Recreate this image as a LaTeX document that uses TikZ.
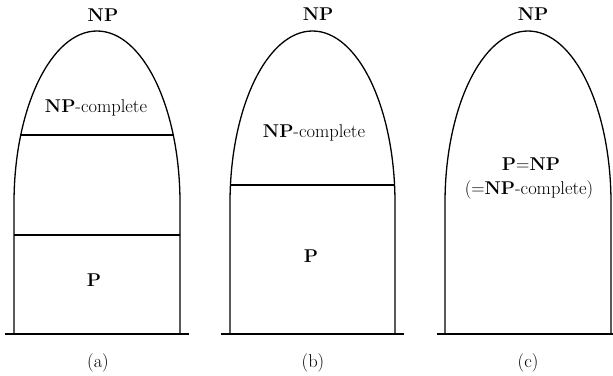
\documentclass[tikz,border=0pt]{standalone}
\begin{document}
\begin{tikzpicture}[x=1pt,y=1pt,
  outline/.style={line width=1.3pt,black},
  lbl/.style={inner sep=0pt,font=\fontsize{18.5}{22}\selectfont}]
\useasboundingbox (0,0) rectangle (613,375);
% ---- (a)
\draw[outline] (14,41) -- (14,172) arc[start angle=180,end angle=0,x radius=83,y radius=172] -- (180,41);
\draw[outline] (5,41) -- (189,41);
\begin{scope}
  \clip (14,41) -- (14,172) arc[start angle=180,end angle=0,x radius=83,y radius=172] -- (180,41) -- cycle;
  \draw[outline] (0,240) -- (200,240);
  \draw[outline] (0,140) -- (200,140);
\end{scope}
\node[lbl] (npa) at (103,360) {\textbf{NP}};
\node[lbl] (npca) at (96,267) {\textbf{NP}-complete};
\node[lbl] (pa) at (94,95) {\textbf{P}};
\node[lbl] (capa) at (98,12) {(a)};
% ---- (b)
\draw[outline] (230,41) -- (230,172) arc[start angle=180,end angle=0,x radius=82.5,y radius=172] -- (395,41);
\draw[outline] (221,41) -- (404,41);
\begin{scope}
  \clip (230,41) -- (230,172) arc[start angle=180,end angle=0,x radius=82.5,y radius=172] -- (395,41) -- cycle;
  \draw[outline] (215,190) -- (410,190);
\end{scope}
\node[lbl] (npb) at (318,361) {\textbf{NP}};
\node[lbl] (npcb) at (314,242) {\textbf{NP}-complete};
\node[lbl] (pb) at (311,119) {\textbf{P}};
\node[lbl] (capb) at (313,12) {(b)};
% ---- (c)
\draw[outline] (445,41) -- (445,172) arc[start angle=180,end angle=0,x radius=83,y radius=172] -- (611,41);
\draw[outline] (437,41) -- (613,41);
\node[lbl] (npc) at (533,361) {\textbf{NP}};
\node[lbl] (pnp) at (531,211) {\textbf{P}=\textbf{NP}};
\node[lbl] (npcc) at (529,185) {(=\textbf{NP}-complete)};
\node[lbl] (capc) at (528,12) {(c)};
\end{tikzpicture}
\end{document}
